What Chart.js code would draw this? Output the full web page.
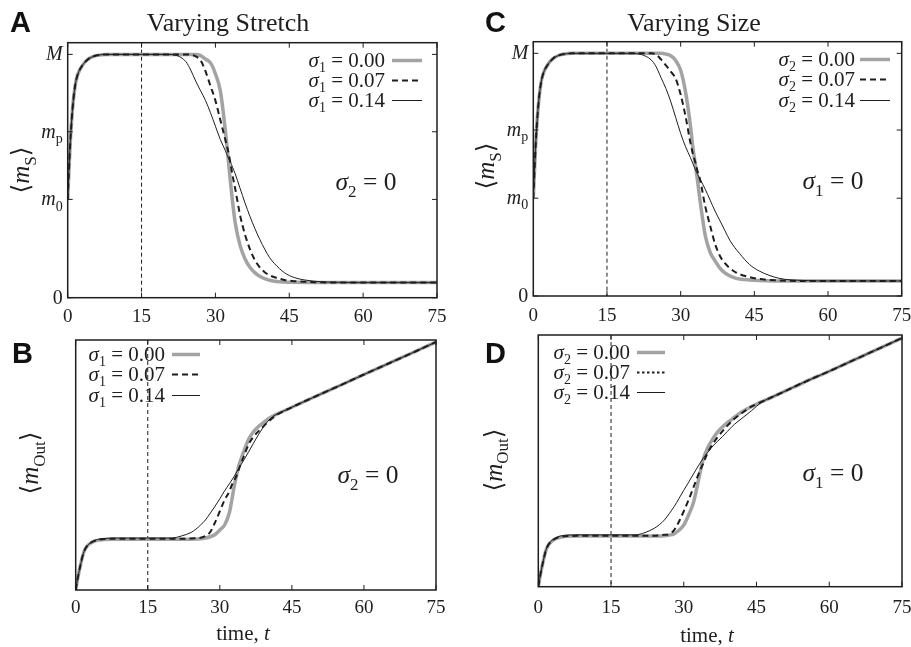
<!DOCTYPE html>
<html>
<head>
<meta charset="utf-8">
<title>Varying Stretch / Varying Size</title>
<script src="https://cdn.jsdelivr.net/npm/chart.js@4.4.1/dist/chart.umd.min.js"></script>
<style>
  html, body { margin: 0; padding: 0; background: #fff; }
  body { width: 911px; height: 647px; position: relative; overflow: hidden; }
  canvas { position: absolute; }
</style>
</head>
<body>
<canvas id="panelA" width="455" height="325" style="left:0;top:0"></canvas>
<canvas id="panelC" width="456" height="325" style="left:455px;top:0"></canvas>
<canvas id="panelB" width="455" height="322" style="left:0;top:325px"></canvas>
<canvas id="panelD" width="456" height="322" style="left:455px;top:325px"></canvas>
<script>
// time points used by every curve
const times = [0, 0.5, 1, 1.5, 2, 3, 4, 5, 6, 8, 10, 15, 20, 22, 24, 25, 26, 27, 28, 29, 30, 31, 32, 32.5, 33, 33.5, 34, 35, 36, 37, 38, 39, 40, 41, 42, 44, 46, 50, 55, 60, 65, 70, 75];
const xTicks = [0, 15, 30, 45, 60, 75];
const sigmaLabels = ['0.00', '0.07', '0.14'];

// A: <m_S>, varying stretch (M = 100)
const stretchS0 = [40.4, 63, 78, 87, 91.5, 95.5, 97.8, 99, 99.6, 100, 100, 100, 100, 100, 100, 100, 100, 99.5, 98, 96.5, 92, 85, 69, 59, 48.5, 39, 31, 21.5, 16, 12.5, 10.3, 8.8, 7.8, 7.2, 6.8, 6.4, 6.3, 6.2, 6.2, 6.2, 6.2, 6.2, 6.2];
const stretchS7 = [40.4, 63, 78, 87, 91.5, 95.5, 97.8, 99, 99.6, 100, 100, 100, 100, 100, 100, 99.8, 99.2, 97.5, 93, 87, 81, 73, 65, 61, 56, 50, 45, 34, 26, 20, 15.5, 12.5, 10.5, 9.2, 8.4, 7.3, 6.8, 6.4, 6.2, 6.2, 6.2, 6.2, 6.2];
const stretchS14 = [40.4, 63, 78, 87, 91.5, 95.5, 97.8, 99, 99.6, 100, 100, 100, 100, 99.6, 97, 93.5, 89, 85, 81, 76, 70.5, 65, 60.5, 58, 56, 53.5, 51, 45, 39, 33.5, 28.5, 24, 20, 16.5, 14, 10.3, 8.3, 6.8, 6.3, 6.2, 6.2, 6.2, 6.2];

// C: <m_S>, varying size
const sizeS0 = [40.3, 63, 78, 87, 91.5, 95.5, 97.8, 99, 99.6, 100, 100, 100, 100, 100, 100, 100, 100, 99.7, 99, 97, 93, 84, 70, 61, 54, 46.5, 38.5, 25, 18, 14.5, 11.5, 9.5, 8.3, 7.5, 7, 6.6, 6.4, 6.2, 6.2, 6.2, 6.2, 6.2, 6.2];
const sizeS7 = [40.3, 63, 78, 87, 91.5, 95.5, 97.8, 99, 99.6, 100, 100, 100, 100, 100, 100, 99.5, 97.5, 95, 92.5, 89.5, 83, 74, 63, 58.5, 55, 51, 47.5, 37, 29, 21.5, 16.5, 13.5, 11.5, 10, 9, 7.8, 7, 6.4, 6.2, 6.2, 6.2, 6.2, 6.2];
const sizeS14 = [40.3, 63, 78, 87, 91.5, 95.5, 97.8, 99, 99.6, 100, 100, 100, 100, 99.5, 97.3, 94.5, 90, 85.5, 80, 73.5, 67, 61.5, 57, 54.5, 52, 50, 48, 44, 39.5, 35, 31, 27, 23, 20, 17.5, 13, 10.3, 7.3, 6.4, 6.2, 6.2, 6.2, 6.2];

// B: <m_Out>, varying stretch (top of box = 100)
const stretchOut0 = [0, 5.5, 10, 14, 16.5, 18.6, 19.6, 20, 20.2, 20.3, 20.3, 20.3, 20.3, 20.3, 20.3, 20.4, 20.5, 20.8, 21.3, 22.2, 24, 26, 31, 36, 41.5, 46, 50, 55.5, 60.3, 63.3, 65.3, 66.8, 68.3, 69.5, 70.5, 72.2, 74, 77.5, 81.8, 86.2, 90.5, 94.8, 99.2];
const stretchOut7 = [0, 5.5, 10, 14, 16.5, 18.7, 19.7, 20.2, 20.4, 20.5, 20.5, 20.5, 20.5, 20.5, 20.6, 20.7, 20.9, 21.6, 23.2, 27, 31.5, 36, 39.5, 42, 43.8, 45.8, 48.5, 53.5, 58.3, 61.2, 63.4, 65.3, 67.2, 68.8, 70.2, 72.2, 74, 77.5, 81.8, 86.2, 90.5, 94.8, 99.2];
const stretchOut14 = [0, 5.5, 10, 14, 16.5, 18.8, 19.9, 20.4, 20.6, 20.8, 20.8, 20.8, 20.8, 21.6, 23, 24.3, 26, 28, 30.7, 33.5, 36.5, 39.7, 42.5, 44, 45.5, 47.2, 48.8, 52, 55.3, 58.7, 62, 65, 67.5, 69.3, 70.5, 72.2, 74, 77.5, 81.8, 86.2, 90.5, 94.8, 99.2];

// D: <m_Out>, varying size
const sizeOut0 = [0, 5.5, 10, 14, 16.3, 18.4, 19.4, 19.8, 20, 20.1, 20.1, 20.1, 20.1, 20.1, 20.1, 20.1, 20.2, 20.5, 21, 22.4, 24.5, 28.5, 33.5, 37.5, 42, 46.5, 50.5, 55.5, 58.8, 61.5, 63.5, 65.2, 66.6, 68.2, 69.5, 71.6, 73.4, 76.9, 81.4, 85.6, 90, 94.4, 98.8];
const sizeOut7 = [0, 5.5, 10, 14, 16.4, 18.5, 19.5, 19.9, 20.1, 20.2, 20.2, 20.2, 20.2, 20.2, 20.2, 20.4, 20.6, 20.9, 22.5, 25.8, 30, 34.5, 39.5, 42, 44.5, 46.8, 49, 53.5, 56.8, 59.5, 61.8, 64, 66, 67.6, 69, 71.6, 73.4, 76.9, 81.4, 85.6, 90, 94.4, 98.8];
const sizeOut14 = [0, 5.5, 10, 14, 16.5, 18.7, 19.8, 20.3, 20.5, 20.6, 20.6, 20.6, 20.6, 21.5, 23.3, 24.7, 26.5, 29, 31.8, 35, 38.3, 41.5, 44.8, 46.4, 48, 49.5, 51, 53.5, 55.9, 57.8, 59.7, 61.7, 63.7, 65.4, 66.9, 70, 73.2, 76.9, 81.4, 85.6, 90, 94.4, 98.8];

// y ticks of the <m_S> panels: 0, m0, mp, M
const stretchTicks = [0, 40.4, 68.2, 100];
const sizeTicks = [0, 40.3, 68.4, 100];
const sTickLabels = ['r:0', 'i:m|s:0', 'i:m|s:p', 'i:M'];

const SERIF = '"Liberation Serif", "DejaVu Serif", serif';
const INK = '#1e1e1e';
const GREY = '#a3a3a3';

// markup: parts split by |, prefix i: italic, s: subscript, r: roman
function fontFor(kind, size) {
  if (kind === 'i') return 'italic ' + size + 'px ' + SERIF;
  if (kind === 's') return Math.round(size * 0.68) + 'px ' + SERIF;
  return size + 'px ' + SERIF;
}

function drawRich(ctx, markup, x, y, size, align) {
  const parts = markup.split('|').map(p => ({ kind: p[0], text: p.slice(2) }));
  let width = 0;
  parts.forEach(p => {
    ctx.font = fontFor(p.kind, size);
    p.w = ctx.measureText(p.text).width;
    width += p.w;
  });
  let cx = x;
  if (align === 'right') cx = x - width;
  if (align === 'center') cx = x - width / 2;
  ctx.textAlign = 'left';
  ctx.textBaseline = 'alphabetic';
  ctx.fillStyle = INK;
  parts.forEach(p => {
    ctx.font = fontFor(p.kind, size);
    ctx.fillText(p.text, cx, p.kind === 's' ? y + size * 0.26 : y);
    cx += p.w;
  });
}

const decor = {
  id: 'decor',
  beforeDatasetsDraw(chart, args, o) {
    const { ctx, chartArea: a } = chart;
    const px = chart.scales.x.getPixelForValue(15);
    ctx.save();
    ctx.strokeStyle = INK;
    ctx.lineWidth = 1;
    ctx.setLineDash([4, 3]);
    ctx.beginPath();
    ctx.moveTo(px, a.top);
    ctx.lineTo(px, a.bottom);
    ctx.stroke();
    ctx.restore();
  },
  afterDatasetsDraw(chart, args, o) {
    const { ctx, chartArea: a, scales: { x, y } } = chart;
    ctx.save();

    // frame + inward ticks
    ctx.strokeStyle = INK;
    ctx.lineWidth = 1.5;
    ctx.strokeRect(a.left, a.top, a.right - a.left, a.bottom - a.top);
    ctx.lineWidth = 1;
    ctx.beginPath();
    xTicks.forEach(t => {
      const px = x.getPixelForValue(t);
      ctx.moveTo(px, a.bottom); ctx.lineTo(px, a.bottom - 5);
      ctx.moveTo(px, a.top); ctx.lineTo(px, a.top + 5);
    });
    if (o.yTicks) {
      o.yTicks.forEach(v => {
        const py = y.getPixelForValue(v);
        ctx.moveTo(a.left, py); ctx.lineTo(a.left + 5, py);
        ctx.moveTo(a.right, py); ctx.lineTo(a.right - 5, py);
      });
    }
    ctx.stroke();

    // tick labels
    xTicks.forEach(t => {
      drawRich(ctx, 'r:' + t, x.getPixelForValue(t), a.bottom + o.xLabelDy, 19, 'center');
    });
    if (o.yTicks) {
      o.yTicks.forEach((v, i) => {
        drawRich(ctx, sTickLabels[i], a.left - 5, y.getPixelForValue(v) + 6, 20, 'right');
      });
    }

    // legend: text, then a line sample
    const lg = o.legend;
    chart.data.datasets.forEach((ds, i) => {
      const ry = Math.round(lg.rows[i]) + 0.5;
      drawRich(ctx, 'i:σ|s:' + o.sigma + '|r: = ' + sigmaLabels[i], lg.textRight, ry + 6, 21, 'right');
      ctx.strokeStyle = ds.borderColor;
      ctx.lineWidth = ds.borderWidth;
      ctx.setLineDash(i === 1 && o.legendDash ? o.legendDash : (ds.borderDash || []));
      ctx.beginPath();
      ctx.moveTo(lg.lineFrom, ry);
      ctx.lineTo(lg.lineTo, ry);
      ctx.stroke();
      ctx.setLineDash([]);
    });

    // fixed-parameter note
    drawRich(ctx, o.note.text, o.note.x, o.note.y, 25.5, 'center');

    // axis titles
    ctx.save();
    ctx.translate(o.yTitle.x, o.yTitle.y);
    ctx.rotate(-Math.PI / 2);
    drawRich(ctx, o.yTitle.text, 0, 8, 25, 'center');
    ctx.restore();
    if (o.xTitle) drawRich(ctx, 'r:time, |i:t', o.xTitle.x, o.xTitle.y, 21, 'center');
    if (o.title) drawRich(ctx, 'r:' + o.title.text, o.title.x, o.title.y, 26, 'center');

    // panel letter
    ctx.font = 'bold 29px "Liberation Sans", Arial, sans-serif';
    ctx.fillStyle = '#111';
    ctx.textAlign = 'left';
    ctx.textBaseline = 'alphabetic';
    ctx.fillText(o.letter.text, o.letter.x, o.letter.y);

    ctx.restore();
  }
};

function makePanel(id, series, yMax, padding, opts) {
  const styles = [
    { borderColor: GREY, borderWidth: 3.5, order: 3 },
    { borderColor: INK, borderWidth: 2, borderDash: [6, 4], order: 2 },
    { borderColor: INK, borderWidth: 1, order: 1 }
  ];
  return new Chart(document.getElementById(id), {
    type: 'line',
    data: {
      datasets: series.map((vals, i) => Object.assign({
        label: 'σ = ' + sigmaLabels[i],
        data: vals.map((v, k) => ({ x: times[k], y: v })),
        pointRadius: 0,
        cubicInterpolationMode: 'monotone',
        fill: false
      }, styles[i]))
    },
    options: {
      responsive: false,
      animation: false,
      layout: { padding: padding },
      scales: {
        x: { type: 'linear', min: 0, max: 75, display: false },
        y: { min: 0, max: yMax, display: false }
      },
      plugins: {
        legend: { display: false },
        tooltip: { enabled: false },
        decor: opts
      }
    },
    plugins: [decor]
  });
}

makePanel('panelA', [stretchS0, stretchS7, stretchS14], 104.8,
  { left: 67.7, top: 42.7, right: 18, bottom: 27.3 },
  {
    sigma: '1', yTicks: stretchTicks, xLabelDy: 24,
    legend: { textRight: 385, lineFrom: 392, lineTo: 422, rows: [60, 80, 100] },
    note: { text: 'i:σ|s:2|r: = 0', x: 366, y: 190 },
    yTitle: { text: 'r:⟨|i:m|s:S|r:⟩', x: 21, y: 170 },
    title: { text: 'Varying Stretch', x: 228, y: 31 },
    letter: { text: 'A', x: 10, y: 32 }
  });

makePanel('panelC', [sizeS0, sizeS7, sizeS14], 104.8,
  { left: 78.3, top: 41.7, right: 9.3, bottom: 29 },
  {
    sigma: '2', yTicks: sizeTicks, xLabelDy: 25,
    legend: { textRight: 400, lineFrom: 405, lineTo: 435, rows: [58.5, 79, 99.5] },
    note: { text: 'i:σ|s:1|r: = 0', x: 378, y: 189 },
    yTitle: { text: 'r:⟨|i:m|s:S|r:⟩', x: 31, y: 166 },
    title: { text: 'Varying Size', x: 239, y: 31 },
    letter: { text: 'C', x: 30, y: 32 }
  });

makePanel('panelB', [stretchOut0, stretchOut7, stretchOut14], 100,
  { left: 75.7, top: 15, right: 19, bottom: 57 },
  {
    sigma: '1', xLabelDy: 23,
    legend: { textRight: 165, lineFrom: 172, lineTo: 200, rows: [29, 49.3, 70] },
    note: { text: 'i:σ|s:2|r: = 0', x: 368, y: 158 },
    yTitle: { text: 'r:⟨|i:m|s:Out|r:⟩', x: 30, y: 138 },
    xTitle: { x: 243, y: 315 },
    letter: { text: 'B', x: 12, y: 38 }
  });

makePanel('panelD', [sizeOut0, sizeOut7, sizeOut14], 100,
  { left: 83.3, top: 10, right: 9, bottom: 60.3 },
  {
    sigma: '2', xLabelDy: 26, legendDash: [2.5, 2.5],
    legend: { textRight: 175, lineFrom: 182, lineTo: 210, rows: [26.7, 46.7, 66.7] },
    note: { text: 'i:σ|s:1|r: = 0', x: 378, y: 156 },
    yTitle: { text: 'r:⟨|i:m|s:Out|r:⟩', x: 38.5, y: 135 },
    xTitle: { x: 252, y: 317 },
    letter: { text: 'D', x: 30, y: 38 }
  });
</script>
</body>
</html>
